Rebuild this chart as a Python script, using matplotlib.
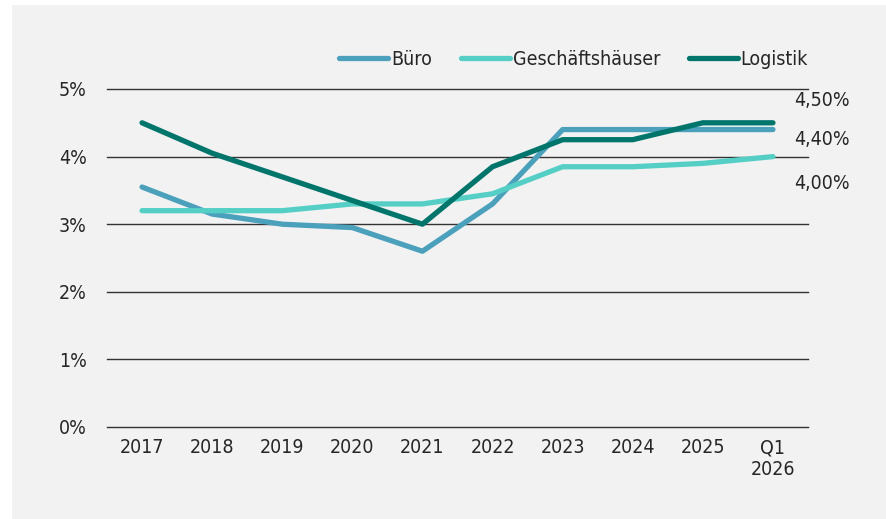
import matplotlib.pyplot as plt
from matplotlib.patches import Rectangle
from matplotlib import font_manager

# schmale Schrift, falls vorhanden
cond = [f for f in font_manager.fontManager.ttflist if f.stretch == 'condensed' or 'Narrow' in f.name or 'Condensed' in f.name]
plt.rcParams['font.family'] = ['DejaVu Sans']
if cond:
    plt.rcParams['font.family'] = [cond[0].name, 'DejaVu Sans']
    plt.rcParams['font.stretch'] = 'condensed'

# Daten
jahre = ['2017', '2018', '2019', '2020', '2021', '2022', '2023', '2024', '2025', 'Q1\n2026']
buero = [3.55, 3.15, 3.0, 2.95, 2.6, 3.3, 4.4, 4.4, 4.4, 4.4]
geschaeft = [3.2, 3.2, 3.2, 3.3, 3.3, 3.45, 3.85, 3.85, 3.9, 4.0]
logistik = [4.5, 4.05, 3.7, 3.35, 3.0, 3.85, 4.25, 4.25, 4.5, 4.5]
end_labels = ['4,50%', '4,40%', '4,00%']

fig = plt.figure(figsize=(8.86, 5.19), dpi=100, facecolor='white')
fig.patches.append(Rectangle((12 / 886, 0), 1, 1 - 5 / 519, transform=fig.transFigure,
                             facecolor='#f2f2f2', edgecolor='none', zorder=-10))
ax = fig.add_axes([107 / 886, 1 - 427 / 519, 701 / 886, (427 - 89) / 519])
ax.set_facecolor('none')

x = range(len(jahre))
ax.plot(x, buero, color='#4ba0bb', lw=3.8, solid_capstyle='round', label='Büro', clip_on=False, zorder=3)
ax.plot(x, geschaeft, color='#55cfc5', lw=3.8, solid_capstyle='round', label='Geschäftshäuser', clip_on=False, zorder=3)
ax.plot(x, logistik, color='#00756c', lw=3.8, solid_capstyle='round', label='Logistik', clip_on=False, zorder=4)

ax.set_xlim(-0.5, len(jahre) - 0.5)
ax.set_ylim(0, 5)
ax.set_yticks([0, 1, 2, 3, 4, 5])
ax.set_yticklabels(['0%', '1%', '2%', '3%', '4%', '5%'])
ax.set_xticks(list(x))
ax.set_xticklabels(jahre)
ax.grid(axis='y', color='#333333', lw=1)
for gl in ax.get_ygridlines():
    gl.set_clip_on(False)
ax.set_axisbelow(True)
for s in ax.spines.values():
    s.set_visible(False)
ax.tick_params(axis='both', length=0, labelsize=14, colors='#262626')
ax.tick_params(axis='y', pad=14.5)
ax.tick_params(axis='x', pad=8)

# Endwerte rechts
for lab, yv in zip(end_labels, [4.83, 4.25, 3.6]):
    ax.text(9.3, yv, lab, fontsize=14, color='#262626', va='center', ha='left')

leg = ax.legend(loc='lower right', bbox_to_anchor=(1.0, 1.06), ncol=3, frameon=False,
                fontsize=14, handlelength=2.5, handletextpad=0.15, columnspacing=1.5,
                borderaxespad=0, borderpad=0)
for t in leg.get_texts():
    t.set_color('#262626')

fig.savefig('out.png', dpi=100, facecolor='white')
